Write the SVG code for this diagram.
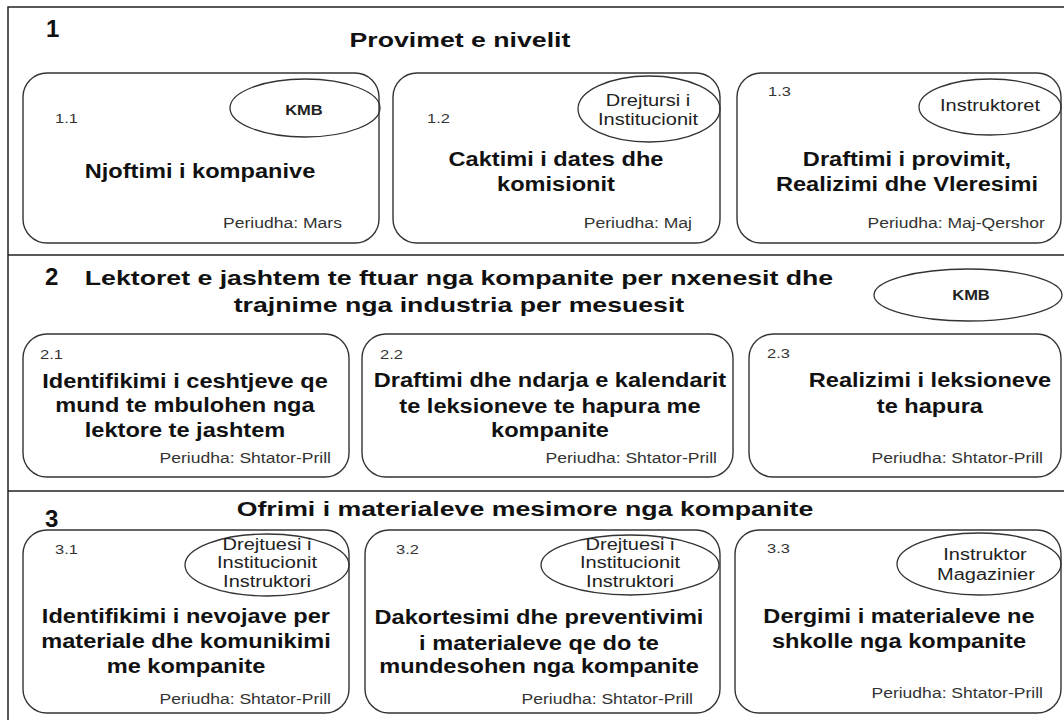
<svg xmlns="http://www.w3.org/2000/svg" width="1064" height="720" viewBox="0 0 1064 720">
<style>
text { font-family: "Liberation Sans", Arial, Helvetica, sans-serif; fill: #111; transform-box: fill-box; }
.m { text-anchor: middle; transform-origin: center; }
.s { text-anchor: start; transform-origin: left center; }
.e { text-anchor: end; transform-origin: right center; }
.num { font-size: 24px; font-weight: bold; }
.ttl { font-size: 21px; font-weight: bold; transform: scaleX(1.27); }
.main { font-size: 19.5px; font-weight: bold; transform: scaleX(1.21); }
.id { font-size: 13.5px; fill: #333; transform: scaleX(1.22); }
.per { font-size: 15px; fill: #333; transform: scaleX(1.17); }
.ell { font-size: 16px; fill: #222; transform: scaleX(1.25); }
.kmb { font-size: 15px; font-weight: bold; fill: #222; transform: scaleX(1.1); }
.box { fill: #fff; stroke: #333; stroke-width: 1.4; }
.ov { fill: none; stroke: #333; stroke-width: 1.3; }
.frame { fill: none; stroke: #222; stroke-width: 1.5; }
</style>
<rect width="1064" height="720" fill="#fff"/>
<g id="frame">
  <rect class="frame" x="8" y="7" width="1070" height="730"/>
  <line class="frame" x1="8" y1="255" x2="1064" y2="255"/>
  <line class="frame" x1="8" y1="491" x2="1064" y2="491"/>
</g>
<g id="connectors"></g>

<g id="section1">
  <text class="num s" x="46" y="37">1</text>
  <text class="ttl m" x="460" y="47">Provimet e nivelit</text>
</g>
<g id="n1-1">
  <rect class="box" x="23" y="73" width="356" height="170" rx="24"/>
  <ellipse class="ov" cx="305" cy="108" rx="75" ry="29"/>
  <text class="kmb m" x="304" y="115">KMB</text>
  <text class="id s" x="55" y="123">1.1</text>
  <text class="main m" x="200" y="178">Njoftimi i kompanive</text>
  <text class="per e" x="342" y="228">Periudha: Mars</text>
</g>
<g id="n1-2">
  <rect class="box" x="393" y="73" width="327" height="170" rx="24"/>
  <ellipse class="ov" cx="649" cy="109" rx="71" ry="33"/>
  <text class="ell m" x="648" y="106">Drejtursi i</text>
  <text class="ell m" x="648" y="125">Institucionit</text>
  <text class="id s" x="427" y="123">1.2</text>
  <text class="main m" x="556" y="166">Caktimi i dates dhe</text>
  <text class="main m" x="556" y="191">komisionit</text>
  <text class="per e" x="692" y="228">Periudha: Maj</text>
</g>
<g id="n1-3">
  <rect class="box" x="737" y="73" width="324" height="170" rx="24"/>
  <ellipse class="ov" cx="990" cy="107" rx="71" ry="28"/>
  <text class="ell m" x="990" y="111">Instruktoret</text>
  <text class="id s" x="768" y="96">1.3</text>
  <text class="main m" x="907" y="166">Draftimi i provimit,</text>
  <text class="main m" x="907" y="191">Realizimi dhe Vleresimi</text>
  <text class="per e" x="1045" y="228">Periudha: Maj-Qershor</text>
</g>

<g id="section2">
  <text class="num s" x="45" y="285">2</text>
  <text class="ttl m" x="459" y="285">Lektoret e jashtem te ftuar nga kompanite per nxenesit dhe</text>
  <text class="ttl m" x="459" y="312">trajnime nga industria per mesuesit</text>
  <ellipse class="ov" cx="968" cy="295" rx="94" ry="26"/>
  <text class="kmb m" x="971" y="300">KMB</text>
</g>
<g id="n2-1">
  <rect class="box" x="23" y="334" width="326" height="143" rx="24"/>
  <text class="id s" x="40" y="359">2.1</text>
  <text class="main m" x="185" y="388">Identifikimi i ceshtjeve qe</text>
  <text class="main m" x="185" y="412">mund te mbulohen nga</text>
  <text class="main m" x="185" y="437">lektore te jashtem</text>
  <text class="per e" x="331" y="463">Periudha: Shtator-Prill</text>
</g>
<g id="n2-2">
  <rect class="box" x="362" y="334" width="371" height="143" rx="24"/>
  <text class="id s" x="380" y="359">2.2</text>
  <text class="main m" x="550" y="387">Draftimi dhe ndarja e kalendarit</text>
  <text class="main m" x="550" y="413">te leksioneve te hapura me</text>
  <text class="main m" x="550" y="437">kompanite</text>
  <text class="per e" x="717" y="463">Periudha: Shtator-Prill</text>
</g>
<g id="n2-3">
  <rect class="box" x="749" y="334" width="312" height="143" rx="24"/>
  <text class="id s" x="767" y="358">2.3</text>
  <text class="main m" x="930" y="387">Realizimi i leksioneve</text>
  <text class="main m" x="930" y="413">te hapura</text>
  <text class="per e" x="1043" y="463">Periudha: Shtator-Prill</text>
</g>

<g id="section3">
  <text class="num s" x="45" y="527">3</text>
  <text class="ttl m" x="525" y="516">Ofrimi i materialeve mesimore nga kompanite</text>
</g>
<g id="n3-1">
  <rect class="box" x="23" y="530" width="326" height="183" rx="24"/>
  <ellipse class="ov" cx="267" cy="565" rx="82" ry="31"/>
  <text class="ell m" x="267" y="550">Drejtuesi i</text>
  <text class="ell m" x="267" y="568">Institucionit</text>
  <text class="ell m" x="267" y="587">Instruktori</text>
  <text class="id s" x="55" y="554">3.1</text>
  <text class="main m" x="186" y="623">Identifikimi i nevojave per</text>
  <text class="main m" x="186" y="648">materiale dhe komunikimi</text>
  <text class="main m" x="186" y="673">me kompanite</text>
  <text class="per e" x="331" y="704">Periudha: Shtator-Prill</text>
</g>
<g id="n3-2">
  <rect class="box" x="365" y="530" width="355" height="183" rx="24"/>
  <ellipse class="ov" cx="630" cy="565" rx="89" ry="30"/>
  <text class="ell m" x="630" y="550">Drejtuesi i</text>
  <text class="ell m" x="630" y="568">Institucionit</text>
  <text class="ell m" x="630" y="587">Instruktori</text>
  <text class="id s" x="396" y="554">3.2</text>
  <text class="main m" x="539" y="624">Dakortesimi dhe preventivimi</text>
  <text class="main m" x="539" y="650">i materialeve qe do te</text>
  <text class="main m" x="539" y="673">mundesohen nga kompanite</text>
  <text class="per e" x="693" y="704">Periudha: Shtator-Prill</text>
</g>
<g id="n3-3">
  <rect class="box" x="735" y="530" width="326" height="183" rx="24"/>
  <ellipse class="ov" cx="979" cy="564" rx="82" ry="31"/>
  <text class="ell m" x="985" y="560">Instruktor</text>
  <text class="ell m" x="986" y="580">Magazinier</text>
  <text class="id s" x="767" y="553">3.3</text>
  <text class="main m" x="899" y="623">Dergimi i materialeve ne</text>
  <text class="main m" x="899" y="648">shkolle nga kompanite</text>
  <text class="per e" x="1043" y="698">Periudha: Shtator-Prill</text>
</g>
</svg>
